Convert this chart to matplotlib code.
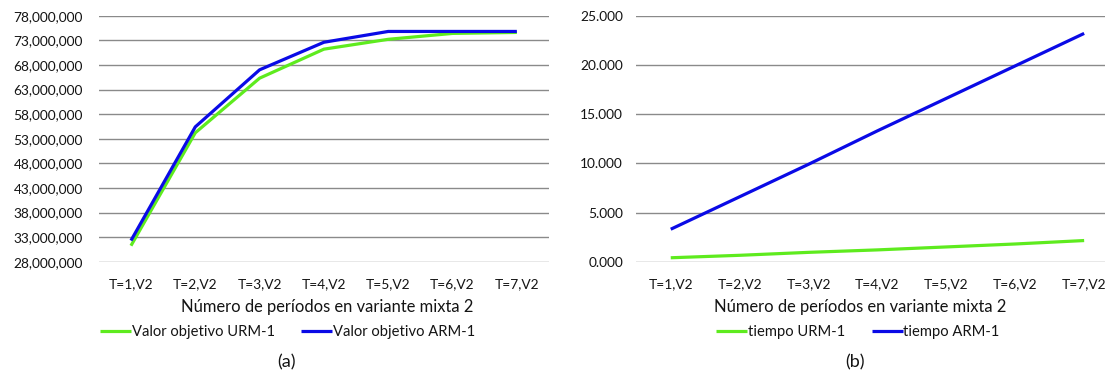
import matplotlib
matplotlib.use("Agg")
import matplotlib.pyplot as plt

# Data
periodos = ["T=1,V2", "T=2,V2", "T=3,V2", "T=4,V2", "T=5,V2", "T=6,V2", "T=7,V2"]

valor_urm = [31.25e6, 54.2e6, 65.3e6, 71.2e6, 73.2e6, 74.4e6, 74.6e6]
valor_arm = [32.3e6, 55.4e6, 67.0e6, 72.6e6, 74.8e6, 74.8e6, 74.8e6]

tiempo_urm = [0.40, 0.65, 0.95, 1.20, 1.50, 1.80, 2.15]
tiempo_arm = [3.3, 6.6, 9.9, 13.3, 16.6, 19.9, 23.2]

valor_ticks = [28e6, 33e6, 38e6, 43e6, 48e6, 53e6, 58e6, 63e6, 68e6, 73e6, 78e6]
tiempo_ticks = [0, 5, 10, 15, 20, 25]

VERDE = "#5EEB1E"
AZUL = "#0A0AE6"
TEXTO = "#141414"
REJILLA = "#8A8A8A"

plt.rcParams["font.family"] = ["Lato", "DejaVu Sans"]

W, H = 1105, 375
fig = plt.figure(figsize=(W / 100, H / 100), dpi=100)


def px_axes(x0, x1, y_top, y_bot):
    return fig.add_axes([x0 / W, 1 - y_bot / H, (x1 - x0) / W, (y_bot - y_top) / H])


def style(ax, ticks, labels, ylim, ypad):
    ax.set_xlim(-0.5, len(periodos) - 0.5)
    ax.set_ylim(*ylim)
    ax.set_yticks(ticks)
    ax.set_yticklabels(labels)
    ax.set_xticks(range(len(periodos)))
    ax.set_xticklabels(periodos)
    for s in ax.spines.values():
        s.set_visible(False)
    ax.tick_params(axis="both", length=0, labelsize=9.9, colors=TEXTO)
    ax.tick_params(axis="y", pad=ypad)
    ax.tick_params(axis="x", pad=12)
    ax.yaxis.grid(True, color=REJILLA, linewidth=1.0)
    ax.set_axisbelow(True)


# (a) objective value
ax1 = px_axes(98.8, 549, 15.7, 261.7)
x = range(len(periodos))
ax1.plot(x, valor_urm, color=VERDE, linewidth=2.3, label="Valor objetivo URM-1", solid_capstyle="butt")
ax1.plot(x, valor_arm, color=AZUL, linewidth=2.3, label="Valor objetivo ARM-1", solid_capstyle="butt")
style(ax1, valor_ticks, [f"{v:,.0f}" for v in valor_ticks], (28e6, 78e6), 11.4)

# (b) computing time
ax2 = px_axes(636.3, 1118.6, 15.7, 261.7)
ax2.plot(x, tiempo_urm, color=VERDE, linewidth=2.3, label="tiempo URM-1", solid_capstyle="butt")
ax2.plot(x, tiempo_arm, color=AZUL, linewidth=2.3, label="tiempo ARM-1", solid_capstyle="butt")
style(ax2, tiempo_ticks, [f"{v:.3f}" for v in tiempo_ticks], (0, 25), 9.6)

xlabel = "Número de períodos en variante mixta 2"
fig.text(327.5 / W, 1 - 306.7 / H, xlabel, ha="center", va="center", fontsize=11.9, color=TEXTO)
fig.text(860 / W, 1 - 306.7 / H, xlabel, ha="center", va="center", fontsize=11.9, color=TEXTO)

for ax, cx in ((ax1, 287.5), (ax2, 858)):
    ax.legend(loc="center", bbox_to_anchor=(cx / W, 1 - 331.7 / H), bbox_transform=fig.transFigure,
              ncol=2, frameon=False, fontsize=10.6, handlelength=2.1, handletextpad=0.05,
              columnspacing=1.8, labelcolor=TEXTO, borderpad=0)

fig.text(286.7 / W, 1 - 362.7 / H, "(a)", ha="center", va="center", fontsize=13, color=TEXTO)
fig.text(855 / W, 1 - 362.7 / H, "(b)", ha="center", va="center", fontsize=13, color=TEXTO)

fig.savefig("out.png", dpi=100, facecolor="white")
